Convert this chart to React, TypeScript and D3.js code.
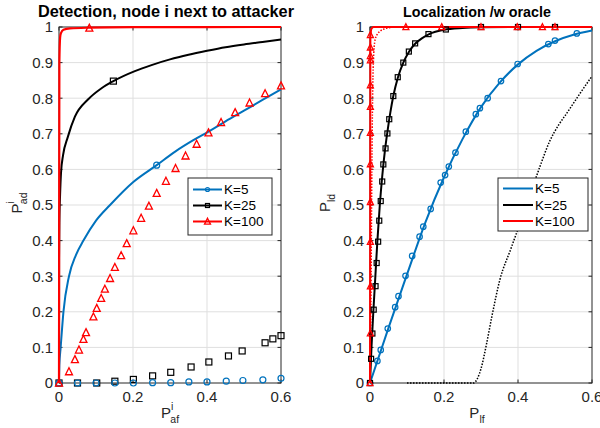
import React from 'react';
import * as d3 from 'd3';

type Pt = [number, number];

// ---- shared axis / legend text ----
const xTicks = [0, 0.2, 0.4, 0.6];
const xTickLabels = ['0', '0.2', '0.4', '0.6'];
const yTicks = [0, 0.1, 0.2, 0.3, 0.4, 0.5, 0.6, 0.7, 0.8, 0.9, 1];
const yTickLabels = ['0', '0.1', '0.2', '0.3', '0.4', '0.5', '0.6', '0.7', '0.8', '0.9', '1'];
const legendLabels = ['K=5', 'K=25', 'K=100'];

// ---- left panel: detection ----
const detK5Line: Pt[] = [
  [0, 0], [0.001, 0.05], [0.0045, 0.1], [0.012, 0.2], [0.027, 0.3], [0.046, 0.36], [0.066, 0.4],
  [0.1, 0.456], [0.138, 0.5], [0.2, 0.564], [0.264, 0.612], [0.314, 0.65], [0.363, 0.682],
  [0.404, 0.706], [0.45, 0.735], [0.5, 0.765], [0.55, 0.795], [0.6, 0.825],
];
const detK5Mark: Pt[] = [[0.264, 0.612]];
const detK5Sim: Pt[] = [
  [0, 0], [0.05, 0], [0.1, 0], [0.151, 0], [0.201, 0], [0.253, 0.001], [0.302, 0.001], [0.351, 0.003],
  [0.4, 0.003], [0.452, 0.005], [0.497, 0.007], [0.551, 0.009], [0.6, 0.013],
];

const detK25Line: Pt[] = [
  [0, 0], [0.0002, 0.35], [0.001, 0.45], [0.003, 0.53], [0.0054, 0.59], [0.011, 0.64], [0.0235, 0.69],
  [0.043, 0.748], [0.079, 0.797], [0.115, 0.828], [0.147, 0.848], [0.205, 0.876], [0.25, 0.893],
  [0.3, 0.909], [0.35, 0.922], [0.4, 0.933], [0.45, 0.943], [0.5, 0.951], [0.55, 0.958], [0.6, 0.965],
];
const detK25Mark: Pt[] = [[0.147, 0.848]];
const detK25Sim: Pt[] = [
  [0, 0], [0.05, 0], [0.102, 0], [0.151, 0.005], [0.201, 0.01], [0.253, 0.02], [0.302, 0.03],
  [0.357, 0.045], [0.405, 0.059], [0.458, 0.076], [0.495, 0.09], [0.557, 0.113], [0.578, 0.124], [0.6, 0.133],
];

const detK100Line: Pt[] = [
  [0, 0], [0.001, 0.9], [0.003, 0.97], [0.005, 0.982], [0.012, 0.992], [0.03, 0.996], [0.08, 0.998],
  [0.2, 0.9995], [0.6, 1],
];
const detK100Mark: Pt[] = [[0.082, 0.997]];
const detK100Sim: Pt[] = [
  [0, 0], [0.027, 0.032], [0.043, 0.066], [0.054, 0.093], [0.066, 0.123], [0.073, 0.142], [0.093, 0.186],
  [0.102, 0.21], [0.114, 0.238], [0.124, 0.264], [0.138, 0.294], [0.151, 0.325], [0.168, 0.358],
  [0.183, 0.392], [0.201, 0.428], [0.222, 0.463], [0.243, 0.497], [0.264, 0.533], [0.289, 0.567],
  [0.315, 0.603], [0.342, 0.638], [0.372, 0.671], [0.404, 0.703], [0.438, 0.732], [0.476, 0.76],
  [0.515, 0.787], [0.557, 0.813], [0.6, 0.835],
];

// ---- right panel: localization with oracle ----
const locK5Line: Pt[] = [
  [0, 0], [0.05, 0.155], [0.1, 0.305], [0.15, 0.452], [0.2, 0.578], [0.25, 0.685], [0.3, 0.775],
  [0.35, 0.843], [0.4, 0.895], [0.45, 0.933], [0.5, 0.96], [0.55, 0.978], [0.6, 0.99],
];
const locK5Sim: Pt[] = [
  [0, 0], [0.02, 0.062], [0.029, 0.093], [0.048, 0.153], [0.068, 0.213], [0.077, 0.244], [0.096, 0.301],
  [0.114, 0.357], [0.134, 0.411], [0.144, 0.439], [0.164, 0.489], [0.191, 0.563], [0.203, 0.584],
  [0.213, 0.608], [0.231, 0.647], [0.259, 0.706], [0.286, 0.755], [0.297, 0.772], [0.318, 0.8],
  [0.354, 0.848], [0.399, 0.896], [0.482, 0.952], [0.5, 0.962], [0.559, 0.982],
];
const locK5Dotted: Pt[] = [
  [0.1, 0], [0.28, 0], [0.29, 0.012], [0.3, 0.04], [0.315, 0.11], [0.33, 0.19], [0.351, 0.29],
  [0.38, 0.375], [0.42, 0.49], [0.46, 0.61], [0.486, 0.68], [0.51, 0.725], [0.532, 0.758],
  [0.568, 0.814], [0.6, 0.862],
];

const locK25Line: Pt[] = [
  [0, 0], [0.004, 0.1], [0.009, 0.2], [0.0145, 0.3], [0.02, 0.4], [0.0265, 0.5], [0.033, 0.58],
  [0.04, 0.65], [0.047, 0.705], [0.055, 0.76], [0.063, 0.806], [0.075, 0.857], [0.09, 0.9],
  [0.105, 0.93], [0.122, 0.953], [0.14, 0.968], [0.16, 0.98], [0.2, 0.992], [0.25, 0.997],
  [0.3, 0.999], [0.4, 1], [0.6, 1],
];
const locK25Sim: Pt[] = [
  [0, 0], [0.003, 0.068], [0.0065, 0.139], [0.01, 0.206], [0.015, 0.272], [0.018, 0.337], [0.022, 0.397],
  [0.025, 0.456], [0.029, 0.511], [0.033, 0.566], [0.036, 0.614], [0.042, 0.659], [0.047, 0.701],
  [0.052, 0.741], [0.063, 0.806], [0.075, 0.859], [0.09, 0.9], [0.105, 0.931], [0.122, 0.954],
  [0.158, 0.98], [0.205, 0.993], [0.3, 1], [0.4, 1], [0.5, 1],
];

const locK100Line: Pt[] = [[0, 0], [0.001, 0.97], [0.004, 0.995], [0.01, 1], [0.6, 1]];
const locK100Sim: Pt[] = [
  [0, 0], [0.001, 0.14], [0.001, 0.272], [0.001, 0.397], [0.001, 0.509], [0.001, 0.615], [0.001, 0.703],
  [0.001, 0.776], [0.001, 0.837], [0.001, 0.907], [0.001, 0.919], [0.001, 0.943], [0.001, 0.978],
  [0.097, 1], [0.194, 1], [0.3, 1], [0.398, 1], [0.466, 1], [0.5, 1],
];
const locK100Dotted: Pt[] = [
  [0, 0], [0.003, 0.3], [0.005, 0.6], [0.007, 0.8], [0.009, 0.9], [0.0135, 0.963], [0.02, 0.98],
  [0.027, 0.988], [0.04, 0.995], [0.06, 0.999], [0.1, 1], [0.6, 1],
];

const BLUE = '#0072BD';
const BLACK = '#000000';
const RED = '#FF0000';
const AXIS = '#262626';
const GRID = '#dfdfdf';
const FONT = '"Liberation Sans", Arial, Helvetica, sans-serif';

type MarkerKind = 'circle' | 'square' | 'triangle';

function Marker({ kind, x, y, color, size }: { kind: MarkerKind; x: number; y: number; color: string; size: number }) {
  if (kind === 'circle') {
    return <circle cx={x} cy={y} r={size / 2} fill="none" stroke={color} strokeWidth={1.2} />;
  }
  if (kind === 'square') {
    return <rect x={x - size / 2} y={y - size / 2} width={size} height={size} fill="none" stroke={color} strokeWidth={1.2} />;
  }
  const h = size;
  const w = size;
  const d = `M${x},${y - h * 0.55} L${x + w / 2},${y + h * 0.45} L${x - w / 2},${y + h * 0.45} Z`;
  return <path d={d} fill="none" stroke={color} strokeWidth={1.3} strokeLinejoin="miter" />;
}

interface Series {
  line?: Pt[];
  dashed?: boolean;
  color: string;
  width?: number;
  marks?: Pt[];
  kind?: MarkerKind;
  size?: number;
}

interface PanelProps {
  left: number;
  right: number;
  top: number;
  bottom: number;
  title: string;
  titleSize: number;
  titleX: number;
  series: Series[];
  xLabel: React.ReactNode;
  yLabel: React.ReactNode;
  legend: { x: number; y: number; w: number; h: number; rows: number[]; lineX0: number; lineX1: number; textX: number; markers: boolean };
}

const legendStyles: { color: string; kind: MarkerKind }[] = [
  { color: BLUE, kind: 'circle' },
  { color: BLACK, kind: 'square' },
  { color: RED, kind: 'triangle' },
];

function Panel(p: PanelProps) {
  const x = d3.scaleLinear().domain([0, 0.6]).range([p.left, p.right]);
  const y = d3.scaleLinear().domain([0, 1]).range([p.bottom, p.top]);
  const lineGen = d3
    .line<Pt>()
    .x((d) => x(d[0]))
    .y((d) => y(d[1]))
    .curve(d3.curveMonotoneX);
  const tick = 3.5;

  return (
    <g fontFamily={FONT}>
      {/* grid */}
      {yTicks.slice(1, -1).map((t) => (
        <line key={'gy' + t} x1={p.left} x2={p.right} y1={y(t)} y2={y(t)} stroke={GRID} strokeWidth={1} />
      ))}
      {xTicks.slice(1, -1).map((t) => (
        <line key={'gx' + t} x1={x(t)} x2={x(t)} y1={p.top} y2={p.bottom} stroke={GRID} strokeWidth={1} />
      ))}
      {/* box and ticks */}
      <rect x={p.left} y={p.top} width={p.right - p.left} height={p.bottom - p.top} fill="none" stroke={AXIS} strokeWidth={1} />
      {yTicks.map((t) => (
        <g key={'ty' + t}>
          <line x1={p.left} x2={p.left + tick} y1={y(t)} y2={y(t)} stroke={AXIS} />
          <line x1={p.right} x2={p.right - tick} y1={y(t)} y2={y(t)} stroke={AXIS} />
        </g>
      ))}
      {xTicks.map((t) => (
        <g key={'tx' + t}>
          <line x1={x(t)} x2={x(t)} y1={p.bottom} y2={p.bottom - tick} stroke={AXIS} />
          <line x1={x(t)} x2={x(t)} y1={p.top} y2={p.top + tick} stroke={AXIS} />
        </g>
      ))}
      {yTicks.map((t, i) => (
        <text key={'ly' + t} x={p.left - 6} y={y(t)} dy="0.36em" textAnchor="end" fontSize={15} fill={AXIS}>
          {yTickLabels[i]}
        </text>
      ))}
      {xTicks.map((t, i) => (
        <text key={'lx' + t} x={x(t)} y={p.bottom + 18.5} textAnchor="middle" fontSize={15} fill={AXIS}>
          {xTickLabels[i]}
        </text>
      ))}
      {/* data */}
      {p.series.map((s, i) =>
        s.line ? (
          <path
            key={'s' + i}
            d={lineGen(s.line) || ''}
            fill="none"
            stroke={s.color}
            strokeWidth={s.width ?? 2}
            strokeDasharray={s.dashed ? '1.5,1.5' : undefined}
            strokeLinejoin="round"
          />
        ) : null
      )}
      {p.series.map((s, i) =>
        s.marks && s.kind
          ? s.marks.map((m, j) => (
              <Marker key={'m' + i + '_' + j} kind={s.kind as MarkerKind} x={x(m[0])} y={y(m[1])} color={s.color} size={s.size ?? 6} />
            ))
          : null
      )}
      {/* title and labels */}
      <text x={p.titleX} y={17} textAnchor="middle" fontSize={p.titleSize} fontWeight="bold" fill="#000">
        {p.title}
      </text>
      {p.xLabel}
      {p.yLabel}
      {/* legend */}
      <g>
        <rect x={p.legend.x} y={p.legend.y} width={p.legend.w} height={p.legend.h} fill="#fff" stroke={AXIS} strokeWidth={1} />
        {legendLabels.map((lab, i) => {
          const ry = p.legend.rows[i];
          const st = legendStyles[i];
          return (
            <g key={'lg' + i}>
              <line x1={p.legend.lineX0} x2={p.legend.lineX1} y1={ry} y2={ry} stroke={st.color} strokeWidth={2} />
              {p.legend.markers ? (
                <Marker kind={st.kind} x={(p.legend.lineX0 + p.legend.lineX1) / 2} y={ry} color={st.color} size={st.kind === 'triangle' ? 6 : 4} />
              ) : null}
              <text x={p.legend.textX} y={ry} dy="0.36em" fontSize={13.5} fill="#000">
                {lab}
              </text>
            </g>
          );
        })}
      </g>
    </g>
  );
}

export default function App() {
  const top = 27;
  const bottom = 383;

  const leftSeries: Series[] = [
    { marks: detK25Sim, kind: 'square', color: BLACK, size: 6 },
    { marks: detK5Sim, kind: 'circle', color: BLUE, size: 6 },
    { line: detK5Line, color: BLUE, width: 2, marks: detK5Mark, kind: 'circle', size: 6 },
    { line: detK25Line, color: BLACK, width: 2, marks: detK25Mark, kind: 'square', size: 6 },
    { line: detK100Line, color: RED, width: 2.2, marks: detK100Mark, kind: 'triangle', size: 7 },
    { marks: detK100Sim, kind: 'triangle', color: RED, size: 7 },
  ];

  const rightSeries: Series[] = [
    { line: locK5Dotted, color: BLACK, width: 1.5, dashed: true },
    { line: locK100Dotted, color: RED, width: 1.5, dashed: true },
    { line: locK5Line, color: BLUE, width: 2 },
    { marks: locK5Sim, kind: 'circle', color: BLUE, size: 5.5 },
    { line: locK25Line, color: BLACK, width: 2 },
    { marks: locK25Sim, kind: 'square', color: BLACK, size: 5 },
    { line: locK100Line, color: RED, width: 2 },
    { marks: locK100Sim, kind: 'triangle', color: RED, size: 6 },
  ];

  const leftXLabel = (
    <text x={170} y={418} textAnchor="middle" fontSize={15} fill={AXIS} fontFamily={FONT}>
      P
      <tspan fontSize={10.5} dy={-8}>i</tspan>
      <tspan fontSize={10.5} dx={-3} dy={13}>af</tspan>
    </text>
  );
  const leftYLabel = (
    <text transform="translate(22,203) rotate(-90)" textAnchor="middle" fontSize={15} fill={AXIS} fontFamily={FONT}>
      P
      <tspan fontSize={10.5} dy={-8}>i</tspan>
      <tspan fontSize={10.5} dx={-3} dy={13}>ad</tspan>
    </text>
  );
  const rightXLabel = (
    <text x={477} y={418} textAnchor="middle" fontSize={15} fill={AXIS} fontFamily={FONT}>
      P
      <tspan fontSize={10.5} dy={5}>lf</tspan>
    </text>
  );
  const rightYLabel = (
    <text transform="translate(330,203) rotate(-90)" textAnchor="middle" fontSize={15} fill={AXIS} fontFamily={FONT}>
      P
      <tspan fontSize={10.5} dy={5}>ld</tspan>
    </text>
  );

  return (
    <svg width={600} height={428} style={{ position: 'absolute', left: 0, top: 0, background: '#fff' }}>
      <rect x={0} y={0} width={600} height={428} fill="#fff" />
      <Panel
        left={59}
        right={281}
        top={top}
        bottom={bottom}
        title="Detection, node i next to attacker"
        titleSize={16.3}
        titleX={166}
        series={leftSeries}
        xLabel={leftXLabel}
        yLabel={leftYLabel}
        legend={{ x: 188, y: 178, w: 84, h: 57, rows: [189.5, 205.5, 221.5], lineX0: 193, lineX1: 222, textX: 224, markers: true }}
      />
      <Panel
        left={370}
        right={592}
        top={top}
        bottom={bottom}
        title="Localization /w oracle"
        titleSize={14.3}
        titleX={477}
        series={rightSeries}
        xLabel={rightXLabel}
        yLabel={rightYLabel}
        legend={{ x: 498, y: 178, w: 90, h: 53, rows: [188.5, 205, 221], lineX0: 503, lineX1: 533, textX: 535, markers: false }}
      />
    </svg>
  );
}
